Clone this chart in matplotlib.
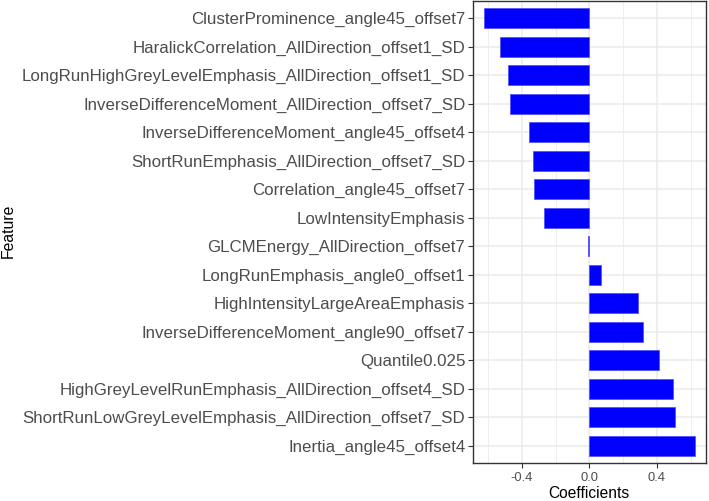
import matplotlib
matplotlib.use("Agg")
import matplotlib.pyplot as plt
from matplotlib.ticker import MultipleLocator

features = [
    "ClusterProminence_angle45_offset7",
    "HaralickCorrelation_AllDirection_offset1_SD",
    "LongRunHighGreyLevelEmphasis_AllDirection_offset1_SD",
    "InverseDifferenceMoment_AllDirection_offset7_SD",
    "InverseDifferenceMoment_angle45_offset4",
    "ShortRunEmphasis_AllDirection_offset7_SD",
    "Correlation_angle45_offset7",
    "LowIntensityEmphasis",
    "GLCMEnergy_AllDirection_offset7",
    "LongRunEmphasis_angle0_offset1",
    "HighIntensityLargeAreaEmphasis",
    "InverseDifferenceMoment_angle90_offset7",
    "Quantile0.025",
    "HighGreyLevelRunEmphasis_AllDirection_offset4_SD",
    "ShortRunLowGreyLevelEmphasis_AllDirection_offset7_SD",
    "Inertia_angle45_offset4",
]
coefs = [-0.627, -0.529, -0.480, -0.471, -0.359, -0.335, -0.329, -0.271,
         -0.005, 0.067, 0.290, 0.316, 0.416, 0.498, 0.506, 0.629]

plt.rcParams['font.family'] = ['Liberation Sans', 'DejaVu Sans']

fig = plt.figure(figsize=(7.09, 5.01), dpi=100)
ax = fig.add_axes([473 / 709, 1 - 462.8 / 501, (706 - 473) / 709, (462.8 - 1) / 501])

n = len(features)
ypos = list(range(n))[::-1]
ax.barh(ypos, coefs, height=0.7, color='#0000FF', edgecolor='#4a4aff', lw=0.5, zorder=3)

lo, hi = min(coefs), max(coefs)
pad = 0.05 * (hi - lo)
ax.set_xlim(lo - pad, hi + pad)
ax.set_ylim(-0.6, n - 1 + 0.6)

ax.set_yticks(ypos)
ax.set_yticklabels(features)
ax.xaxis.set_major_locator(MultipleLocator(0.4))
ax.xaxis.set_minor_locator(MultipleLocator(0.2))
ax.set_xticks([-0.4, 0.0, 0.4])
ax.set_xticklabels(['-0.4', '0.0', '0.4'])

ax.grid(True, which='major', color='#EBEBEB', lw=1.1, zorder=0)
ax.grid(True, which='minor', axis='x', color='#EBEBEB', lw=0.6, zorder=0)
ax.set_axisbelow(True)
ax.tick_params(which='minor', length=0)
ax.tick_params(which='major', length=3.5, width=0.8, color='#333333',
               labelcolor='#4D4D4D', pad=2)
ax.tick_params(axis='y', labelsize=12.2)
ax.tick_params(axis='x', labelsize=9.3, pad=3)
for s in ax.spines.values():
    s.set_color('#333333')
    s.set_linewidth(1.0)

fig.text(589 / 709, 1 - 497.5 / 501, 'Coefficients', fontsize=11.2,
         ha='center', va='baseline')
fig.text(8 / 709, 1 - 231 / 501, 'Feature', rotation=90, fontsize=11.3,
         ha='center', va='center')

fig.savefig('out.png', dpi=100)
